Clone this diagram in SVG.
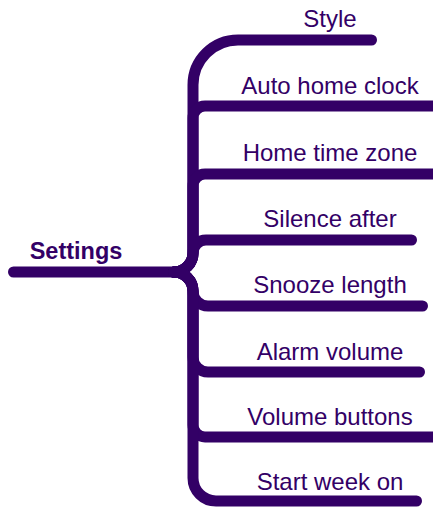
<svg xmlns="http://www.w3.org/2000/svg" width="433" height="510" viewBox="0 0 433 510">
<style>
.c{fill:none;stroke:#330066;stroke-width:11;stroke-linecap:round;stroke-linejoin:round}
.t{font-family:"Liberation Sans",Arial,sans-serif;font-size:24px;fill:#330066;text-anchor:middle}
.r{font-weight:bold;font-size:23.5px}
</style>
<rect width="433" height="510" fill="#ffffff"/>
<g id="connectors">
<path class="c" d="M13.5 272 H174"/>
<path class="c" d="M174 272 A19 19 0 0 0 193 253 V85 A45 45 0 0 1 238 40 H371.5"/>
<path class="c" d="M174 272 A19 19 0 0 0 193 253 V118 A12 12 0 0 1 205 106 H440"/>
<path class="c" d="M174 272 A19 19 0 0 0 193 253 V186 A12 12 0 0 1 205 174 H440"/>
<path class="c" d="M174 272 A19 19 0 0 0 193 253 A13 13 0 0 1 206 240 H411.5"/>
<path class="c" d="M174 272 A19 19 0 0 1 193 291 A15 15 0 0 0 208 306 H422.5"/>
<path class="c" d="M174 272 A19 19 0 0 1 193 291 V357 A15 15 0 0 0 208 372 H419.5"/>
<path class="c" d="M174 272 A19 19 0 0 1 193 291 V425 A12 12 0 0 0 205 437 H440"/>
<path class="c" d="M174 272 A19 19 0 0 1 193 291 V478 A23 23 0 0 0 216 501 H416.5"/>
</g>
<g id="settings"><text class="t r" x="76" y="259">Settings</text></g>
<g id="style"><text class="t" x="330" y="27">Style</text></g>
<g id="auto-home-clock"><text class="t" x="330" y="94">Auto home clock</text></g>
<g id="home-time-zone"><text class="t" x="330" y="161">Home time zone</text></g>
<g id="silence-after"><text class="t" x="330" y="227">Silence after</text></g>
<g id="snooze-length"><text class="t" x="330" y="293">Snooze length</text></g>
<g id="alarm-volume"><text class="t" x="330" y="360">Alarm volume</text></g>
<g id="volume-buttons"><text class="t" x="330" y="425">Volume buttons</text></g>
<g id="start-week-on"><text class="t" x="330" y="490">Start week on</text></g>
</svg>
